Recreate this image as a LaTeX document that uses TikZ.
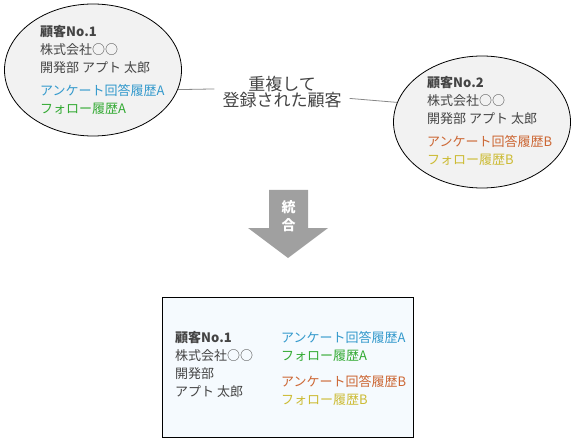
\documentclass[tikz,border=0pt]{standalone}
\usepackage{fontspec}
\setmainfont{Noto Sans CJK JP}
\usepackage{xcolor}
\usetikzlibrary{positioning,shapes.geometric}
\definecolor{Ink}{RGB}{68, 68, 68}
\definecolor{SurveyA}{RGB}{51, 153, 204}
\definecolor{FollowA}{RGB}{51, 170, 51}
\definecolor{SurveyB}{RGB}{204, 102, 51}
\definecolor{FollowB}{RGB}{204, 187, 51}
\definecolor{Bubble}{RGB}{242, 242, 242}
\definecolor{Sheet}{RGB}{245, 250, 254}
\definecolor{ArrowGray}{RGB}{160, 160, 160}
\definecolor{Wire}{RGB}{136, 136, 136}

\begin{document}
\begin{tikzpicture}[x=1pt, y=-1pt,
    bubble/.style={ellipse, draw=black, fill=Bubble, line width=0.8pt,
                   minimum width=177pt, minimum height=132pt, inner sep=0pt},
    info/.style={anchor=north west, align=left, inner sep=0pt, text=Ink,
                 font=\fontsize{13}{18}\selectfont},
    wire/.style={draw=Wire, line width=0.8pt},
]
\useasboundingbox (0,0) rectangle (577,438);

\node[bubble] (cust1) at (93,70) {};
\node[bubble] (cust2) at (482,122) {};

\node[info] (info1) at (40,25)
      {\textbf{顧客No.1}\\株式会社○○\\開発部 アプト 太郎\\[5pt]
       \textcolor{SurveyA}{アンケート回答履歴A}\\\textcolor{FollowA}{フォロー履歴A}};
\node[info] (info2) at (427,76)
      {\textbf{顧客No.2}\\株式会社○○\\開発部 アプト 太郎\\[5pt]
       \textcolor{SurveyB}{アンケート回答履歴B}\\\textcolor{FollowB}{フォロー履歴B}};

\node[align=center, text=Ink, inner xsep=8pt, inner ysep=0pt,
      font=\fontsize{17}{16}\selectfont]
      (dup) at (282,92.5) {重複して\\登録された顧客};

\draw[wire] (cust1.-13) -- (dup.177);
\draw[wire] (dup.-5) -- (cust2.167);

% merge arrow
\fill[ArrowGray] (269,190) -- (308,190) -- (308,228) -- (328,228)
      -- (288,258) -- (248,228) -- (269,228) -- cycle;
\node[align=center, text=white, inner sep=0pt,
      font=\bfseries\fontsize{14}{18}\selectfont]
      (merge) at (288.5,216) {統\\合};

\node[draw=black, fill=Sheet, line width=0.8pt, minimum width=251pt,
      minimum height=140pt, inner sep=0pt] (merged) at (287.5,367) {};
\node[info] (left) at (175,331)
      {\textbf{顧客No.1}\\株式会社○○\\開発部\\アプト 太郎};
\node[info] (right) at (281,331)
      {\textcolor{SurveyA}{アンケート回答履歴A}\\\textcolor{FollowA}{フォロー履歴A}\\[8pt]
       \textcolor{SurveyB}{アンケート回答履歴B}\\\textcolor{FollowB}{フォロー履歴B}};
\end{tikzpicture}
\end{document}
